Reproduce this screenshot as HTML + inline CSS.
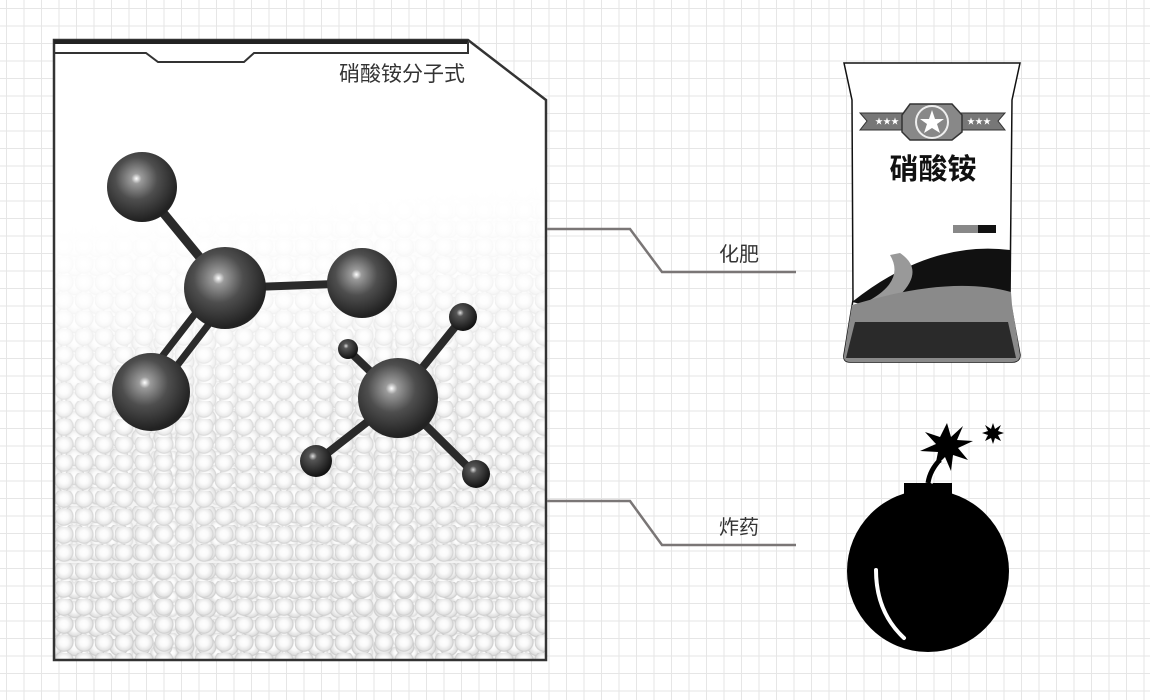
<!DOCTYPE html>
<html><head><meta charset="utf-8">
<style>
html,body{margin:0;padding:0}
body{width:1150px;height:700px;position:relative;overflow:hidden;background-color:#fff;
background-image:linear-gradient(#e6e6e6 1px,transparent 1px),linear-gradient(90deg,#e6e6e6 1px,transparent 1px);
background-size:17.5px 17.5px;background-position:6px 8px;font-family:"Liberation Sans","Noto Sans CJK SC",sans-serif}
#pel,#fade{position:absolute;left:55px;top:41px;width:490px;height:618px;clip-path:polygon(0 0,413px 0,491px 59px,491px 618px,0 618px)}
#pel{background-color:#f1f1f1;
background-image:
radial-gradient(circle at 45% 40%,#fff 0,#fafafa 4px,#e0e0e0 8px,#c8c8c8 9px,transparent 10px),
radial-gradient(circle at 45% 40%,#fff 0,#f7f7f7 4px,#dcdcdc 8px,#c4c4c4 9px,transparent 10px),
radial-gradient(circle at 45% 40%,#fff 0,#f8f8f8 3px,#dadada 6px,transparent 7px);
background-size:20px 18px,22px 19px,15px 14px;background-position:0 0,10px 9px,5px 4px}
#fade{background:linear-gradient(175deg,#fff 0%,#fff 28%,rgba(255,255,255,.8) 42%,rgba(255,255,255,.3) 60%,rgba(255,255,255,.05) 100%)}
svg{position:absolute;left:0;top:0}
</style></head><body>
<div id="pel"></div><div id="fade"></div>
<svg width="1150" height="700" viewBox="0 0 1150 700">
<defs>
<radialGradient id="b" cx="0.42" cy="0.38" r="0.6"><stop offset="0" stop-color="#fff"/><stop offset="0.12" stop-color="#9a9a9a"/><stop offset="0.5" stop-color="#4e4e4e"/><stop offset="1" stop-color="#222"/></radialGradient>
<radialGradient id="s" cx="0.4" cy="0.35" r="0.65"><stop offset="0" stop-color="#ddd"/><stop offset="0.2" stop-color="#555"/><stop offset="1" stop-color="#111"/></radialGradient>
</defs>
<path d="M54,40 H468 L546,100 V660 H54 Z" fill="none" stroke="#333" stroke-width="2.5"/>
<path d="M54,42 H468" stroke="#222" stroke-width="4"/>
<path d="M54,53 H146 L158,62 H244 L254,53 H468 V42" fill="none" stroke="#333" stroke-width="2"/>
<text x="465" y="81" font-size="21" fill="#333" text-anchor="end" font-family="Liberation Sans,Noto Sans CJK SC,sans-serif">硝酸铵分子式</text>
<g stroke="#2a2a2a" stroke-linecap="round">
<line x1="142" y1="187" x2="225" y2="288" stroke-width="9"/>
<line x1="225" y1="288" x2="362" y2="283" stroke-width="8"/>
<line x1="198" y1="310" x2="140" y2="385" stroke-width="7"/>
<line x1="212" y1="320" x2="156" y2="393" stroke-width="7"/>
<line x1="398" y1="398" x2="463" y2="317" stroke-width="8"/>
<line x1="398" y1="398" x2="348" y2="350" stroke-width="8"/>
<line x1="398" y1="398" x2="316" y2="462" stroke-width="8"/>
<line x1="398" y1="398" x2="476" y2="475" stroke-width="8"/>
</g>
<circle cx="142" cy="187" r="35" fill="url(#b)"/>
<circle cx="362" cy="283" r="35" fill="url(#b)"/>
<circle cx="225" cy="288" r="41" fill="url(#b)"/>
<circle cx="151" cy="392" r="39" fill="url(#b)"/>
<circle cx="398" cy="398" r="40" fill="url(#b)"/>
<circle cx="463" cy="317" r="14" fill="url(#s)"/>
<circle cx="348" cy="349" r="10" fill="url(#s)"/>
<circle cx="316" cy="461" r="16" fill="url(#s)"/>
<circle cx="476" cy="474" r="14" fill="url(#s)"/>
<g fill="none" stroke="#7a7676" stroke-width="2.5">
<path d="M547,229 H630 L662,272 H796"/>
<path d="M547,501 H630 L662,545 H796"/>
</g>
<text x="739" y="261" font-size="20" fill="#333" text-anchor="middle" font-family="Liberation Sans,Noto Sans CJK SC,sans-serif">化肥</text>
<text x="739" y="534" font-size="20" fill="#333" text-anchor="middle" font-family="Liberation Sans,Noto Sans CJK SC,sans-serif">炸药</text>
<path d="M844,63 H1020 L1012,100 L1010,300 L1020,355 Q1020,362 1012,362 H850 Q843,362 844,355 L853,300 L852,100 Z" fill="#fff" stroke="#111" stroke-width="1.5"/>
<path d="M852,302 Q930,240 1010,250 V300 Q950,275 865,305 Z" fill="#111"/>
<path d="M900,253 Q925,270 900,295 L870,300 Q905,280 890,255 Z" fill="#999"/>
<path d="M852,305 Q950,275 1011,292 L1012,305 L1020,355 Q1020,362 1012,362 H850 Q843,362 844,355 L852,305 Z" fill="#8a8a8a"/>
<path d="M855,322 H1008 L1016,358 H846 Z" fill="#2a2a2a"/>
<rect x="953" y="225" width="25" height="8" fill="#888"/><rect x="978" y="225" width="18" height="8" fill="#111"/>
<polygon points="860,113 905,113 905,130 860,130 867,121" fill="#777" stroke="#333"/>
<polygon points="1005,113 960,113 960,130 1005,130 998,121" fill="#777" stroke="#333"/>
<polygon points="910,104 952,104 962,115 962,132 952,140 910,140 902,132 902,115" fill="#888" stroke="#333" stroke-width="1.5"/>
<circle cx="932" cy="122" r="16" fill="none" stroke="#eee" stroke-width="2"/>
<polygon points="932,110 935,119 944,119 937,124 940,133 932,128 924,133 927,124 920,119 929,119" fill="#fff"/>
<text x="875" y="124" font-size="8" fill="#fff">★★★</text><text x="967" y="124" font-size="8" fill="#fff">★★★</text>
<text x="933" y="179" font-size="29" font-weight="bold" fill="#111" text-anchor="middle" font-family="Liberation Sans,Noto Sans CJK SC,sans-serif">硝酸铵</text>
<circle cx="928" cy="571" r="81" fill="#000"/>
<rect x="904" y="483" width="48" height="22" fill="#000"/>
<path d="M876,570 Q876,612 904,638" fill="none" stroke="#fff" stroke-width="4" stroke-linecap="round"/>
<path d="M928,483 Q930,470 940,460" fill="none" stroke="#000" stroke-width="5"/>
<path d="M932,484 Q933,472 941,463" fill="none" stroke="#fff" stroke-width="1"/>
<polygon points="947,423 951,437 963,426 957,440 973,441 958,448 968,460 953,455 951,471 945,457 935,467 938,452 920,451 936,444 925,432 940,437" fill="#000"/>
<polygon points="993,423 995,429 1001,425 998,431 1004,433 998,435 1001,441 995,438 993,444 991,438 985,441 988,435 982,433 988,431 985,425 991,429" fill="#000"/>
</svg>
</body></html>
